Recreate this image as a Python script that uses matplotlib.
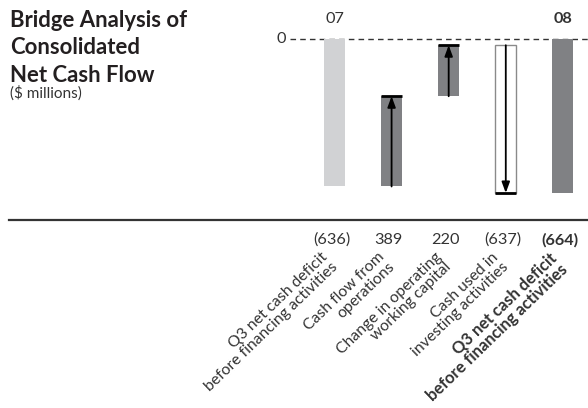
import matplotlib
matplotlib.use('Agg')
import numpy as np
import matplotlib.pyplot as plt
from matplotlib.lines import Line2D
from matplotlib import transforms

plt.rcParams['font.family'] = ['Lato', 'DejaVu Sans']

# data ($ millions)
labels = ['Q3 net cash deficit\nbefore financing activities',
          'Cash flow from\noperations',
          'Change in operating\nworking capital',
          'Cash used in\ninvesting activities',
          'Q3 net cash deficit\nbefore financing activities']
values = [-636, 389, 220, -637, -664]
value_text = ['(636)', '389', '220', '(637)', '(664)']
kinds = ['total07', 'up', 'up', 'down', 'total08']
years = ['07', '08']
title_lines = ['Bridge Analysis of', 'Consolidated', 'Net Cash Flow']
subtitle = '($ millions)'

TXT = '#333333'
LIGHT = '#d1d2d4'
DARK = '#808184'
H = 408.0

fig = plt.figure(figsize=(5.88, 4.08), dpi=100)
renderer = fig.canvas.get_renderer()


def fit_size(s, target_px, weight='normal'):
    # font size that makes string s about target_px wide
    t = fig.text(0, 0, s, fontsize=10, fontweight=weight)
    w = t.get_window_extent(renderer).width
    t.remove()
    return 10 * target_px / w


ax = fig.add_axes([0, 0, 1, 1])
ax.set_xlim(-5.858, 4.44)
ax.set_ylim(-1591, 168)
ax.axis('off')
tr = transforms.blended_transform_factory(ax.transData, fig.transFigure)

# bridge bars
w = 0.37
level = 0
for i, (v, k) in enumerate(zip(values, kinds)):
    if k.startswith('total'):
        col = LIGHT if k == 'total07' else DARK
        ax.bar(i, v, width=w, bottom=0, color=col, zorder=2)
        level = v
        continue
    start, end = level, level + v
    lo, hi = min(start, end), max(start, end)
    if k == 'up':
        ax.bar(i, hi - lo, width=w, bottom=lo, color=DARK, zorder=2)
    else:
        ax.bar(i, hi - lo, width=w, bottom=lo, facecolor='white',
               edgecolor='#8a8a8a', linewidth=1, zorder=2)
    ax.annotate('', xy=(i, end), xytext=(i, start),
                arrowprops=dict(arrowstyle='-|>,head_length=0.65,head_width=0.24',
                                color='black', lw=1.3, shrinkA=0, shrinkB=0),
                zorder=4)
    ax.plot([i - w / 2, i + w / 2], [end, end], color='black', lw=2,
            solid_capstyle='butt', zorder=5)
    level = end

# zero line
ax.axhline(0, xmin=290 / 588, xmax=1, color=TXT, lw=1, ls=(0, (4, 3)), zorder=1)

val_fs = fit_size('(637)', 37)
ax.text(-0.85, 0, '0', ha='right', va='center', fontsize=val_fs, color=TXT)

# year labels
ax.text(0, 1 - 19 / H, years[0], transform=tr, ha='center', va='center',
        fontsize=val_fs, color=TXT)
ax.text(4, 1 - 19 / H, years[1], transform=tr, ha='center', va='center',
        fontsize=val_fs, color=TXT, fontweight='bold')

# rule
fig.add_artist(Line2D([9 / 588, 1], [1 - 220 / H] * 2, color='#333333', lw=1.6))

# values and category labels
lab_fs = fit_size('before financing activities', 179)
lab_fs_b = fit_size('before financing activities', 190, 'bold')
for i, (t, lab) in enumerate(zip(value_text, labels)):
    bold = 'bold' if i == 4 else 'normal'
    ax.text(i - 0.05, 1 - 240 / H, t, transform=tr, ha='center', va='center',
            fontsize=val_fs, color=TXT, fontweight=bold)
    off = transforms.offset_copy(tr, fig=fig, x=-14, y=0, units='dots')
    ax.text(i, 1 - 250 / H, lab, transform=off, ha='right', va='top',
            rotation=44, rotation_mode='anchor', multialignment='right',
            fontsize=lab_fs_b if i == 4 else lab_fs, color=TXT,
            fontweight=bold, linespacing=1.0)

# title
ttl_fs = fit_size(title_lines[0], 178, 'bold')
for line, yb in zip(title_lines, [27, 54, 82]):
    fig.text(10 / 588, 1 - yb / H, line, ha='left', va='baseline',
             fontsize=ttl_fs, fontweight='bold', color='#231f20')
fig.text(10 / 588, 1 - 98 / H, subtitle, ha='left', va='baseline',
         fontsize=fit_size(subtitle, 72), color=TXT)

fig.savefig('out.png', dpi=100)
